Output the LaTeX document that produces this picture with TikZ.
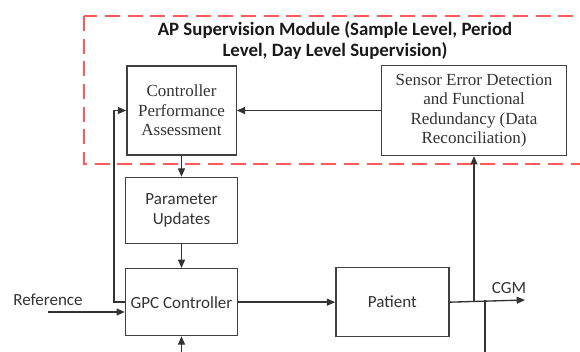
\documentclass[tikz,border=0pt]{standalone}
\usepackage{fontspec}
\setmainfont{Carlito}
\newfontfamily\boxserif{Liberation Serif}
\usetikzlibrary{positioning,arrows.meta}

\tikzset{
  blk/.style={draw=black!75, line width=0.8pt, align=center, inner sep=1pt,
    text=black!80, font=\fontsize{10.2}{12}\selectfont},
  serifblk/.style={blk, font=\boxserif\fontsize{10.2}{11.7}\selectfont},
  conn/.style={draw=black!80, line width=0.8pt, -{Triangle[length=5pt,width=4.2pt]}},
  wire/.style={draw=black!80, line width=0.8pt},
  lbl/.style={text=black!80, font=\fontsize{10.2}{12}\selectfont},
  supbox/.style={draw=red!65, line width=0.9pt, dash pattern=on 9pt off 4.6pt},
}

\begin{document}
\begin{tikzpicture}[x=0.6pt, y=-0.6pt]
\useasboundingbox (0,0) rectangle (580,352);

\draw[supbox] (84,16) rectangle (600,164);
\node[font=\bfseries\fontsize{11.3}{12.3}\selectfont, align=center, text=black!90] (title) at (335,40.5)
  {AP Supervision Module (Sample Level, Period\\Level, Day Level Supervision)};

\node[serifblk, minimum width=65.6pt, minimum height=53.4pt] (cpa) at (181.5,110.5)
  {Controller\\Performance\\Assessment};
\node[serifblk, minimum width=111pt, minimum height=54pt, right=86.4pt of cpa] (sensor)
  {Sensor Error Detection\\and Functional\\Redundancy (Data\\Reconciliation)};
\node[blk, minimum width=67.2pt, minimum height=39.6pt, below=12.6pt of cpa] (pu)
  {Parameter\\Updates};
\node[blk, minimum width=67.2pt, minimum height=40.2pt, below=14.4pt of pu] (gpc)
  {GPC Controller};
\node[blk, minimum width=67.8pt, minimum height=41.4pt, right=58.2pt of gpc] (patient)
  {Patient};

\node[lbl] (ref) at (48,300) {Reference};
\node[lbl] (cgmlbl) at (509,288) {CGM};
\coordinate (refin) at (48,312);
\coordinate (bot) at (0,353);
\coordinate (cgm) at (525,300);
\coordinate (tap) at (sensor.south |- patient.east);
\coordinate (tap2) at (485,300);

\draw[conn] (sensor) -- (cpa);
\draw[conn] (cpa) -- (pu);
\draw[conn] (pu) -- (gpc);
\draw[conn] (gpc) -- (patient);
\draw[conn] (gpc.west) -- ++(-11,0) |- (cpa.west);
\draw[conn] (refin) -- (gpc.west |- refin);
\draw[conn] (gpc.south |- bot) -- (gpc.south);
\draw[conn] (patient.east) -- (cgm);
\draw[conn] (tap) -- (sensor.south);
\draw[wire] (tap2) -- (tap2 |- bot);
\end{tikzpicture}
\end{document}
